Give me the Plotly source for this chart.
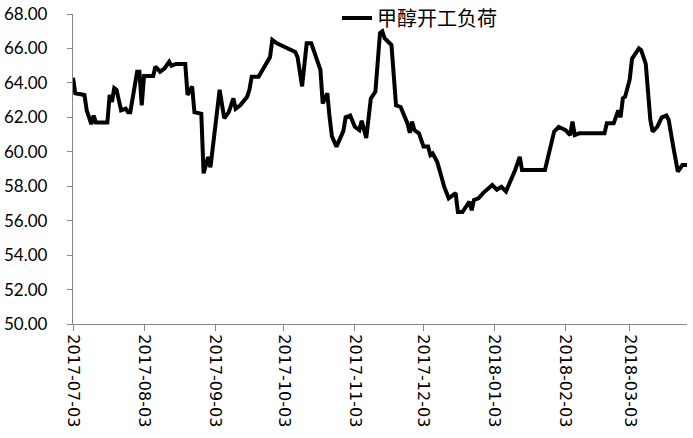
import plotly.graph_objects as go

dates = [
    "2017-07-03", "2017-07-04", "2017-07-08", "2017-07-09", "2017-07-11", "2017-07-12", "2017-07-13",
    "2017-07-18", "2017-07-19", "2017-07-20", "2017-07-21", "2017-07-22", "2017-07-24", "2017-07-26",
    "2017-07-27", "2017-07-28", "2017-07-31", "2017-08-01", "2017-08-02", "2017-08-03", "2017-08-07",
    "2017-08-08", "2017-08-10", "2017-08-12", "2017-08-14", "2017-08-15", "2017-08-17", "2017-08-21",
    "2017-08-22", "2017-08-24", "2017-08-25", "2017-08-28", "2017-08-29", "2017-08-31", "2017-09-01",
    "2017-09-05", "2017-09-07", "2017-09-09", "2017-09-11", "2017-09-12", "2017-09-14", "2017-09-17",
    "2017-09-18", "2017-09-19", "2017-09-22", "2017-09-25", "2017-09-27", "2017-09-28", "2017-09-30",
    "2017-10-08", "2017-10-09", "2017-10-11", "2017-10-13", "2017-10-15", "2017-10-17", "2017-10-19",
    "2017-10-20", "2017-10-21", "2017-10-22", "2017-10-23", "2017-10-24", "2017-10-26", "2017-10-28",
    "2017-10-29", "2017-10-30", "2017-11-01", "2017-11-03", "2017-11-05", "2017-11-06", "2017-11-08",
    "2017-11-10", "2017-11-12", "2017-11-14", "2017-11-15", "2017-11-16", "2017-11-19", "2017-11-21",
    "2017-11-23", "2017-11-26", "2017-11-27", "2017-11-28", "2017-11-29", "2017-12-01", "2017-12-03",
    "2017-12-05", "2017-12-06", "2017-12-07", "2017-12-09", "2017-12-11", "2017-12-12", "2017-12-14",
    "2017-12-17", "2017-12-18", "2017-12-20", "2017-12-23", "2017-12-24", "2017-12-25", "2017-12-27",
    "2017-12-29", "2018-01-02", "2018-01-04", "2018-01-06", "2018-01-08", "2018-01-10", "2018-01-12",
    "2018-01-14", "2018-01-15", "2018-01-25", "2018-01-29", "2018-01-31", "2018-02-03", "2018-02-05",
    "2018-02-06", "2018-02-07", "2018-02-09", "2018-02-20", "2018-02-21", "2018-02-24", "2018-02-25",
    "2018-02-26", "2018-02-27", "2018-02-28", "2018-03-01", "2018-03-03", "2018-03-04", "2018-03-07",
    "2018-03-08", "2018-03-10", "2018-03-12", "2018-03-13", "2018-03-15", "2018-03-17", "2018-03-19",
    "2018-03-20", "2018-03-22", "2018-03-24", "2018-03-26", "2018-03-28",
]

load_rate = [
    64.30, 63.40, 63.30, 62.40, 61.60, 62.10, 61.70,
    61.70, 63.30, 62.90, 63.70, 63.60, 62.40, 62.50,
    62.30, 62.30, 64.65, 64.65, 62.70, 64.40, 64.40,
    64.95, 64.65, 64.85, 65.23, 65.00, 65.10, 65.10,
    63.30, 63.80, 62.30, 62.20, 58.75, 59.70, 59.10,
    63.60, 61.95, 62.30, 63.10, 62.50, 62.70, 63.20,
    63.60, 64.35, 64.35, 65.10, 65.50, 66.50, 66.30,
    65.80, 65.50, 63.80, 66.30, 66.30, 65.50, 64.75,
    62.80, 63.10, 63.40, 62.00, 60.90, 60.30, 60.90,
    61.20, 62.00, 62.10, 61.45, 61.26, 61.80, 60.80,
    63.10, 63.50, 66.90, 67.00, 66.60, 66.20, 62.70,
    62.60, 61.65, 61.10, 61.75, 61.26, 61.07, 60.30,
    60.30, 59.80, 59.90, 59.40, 58.46, 57.97, 57.30,
    57.60, 56.50, 56.50, 57.10, 56.60, 57.20, 57.30,
    57.60, 58.07, 57.80, 57.97, 57.70, 58.26, 58.94,
    59.70, 58.94, 58.94, 61.17, 61.45, 61.26, 60.97,
    61.75, 60.97, 61.07, 61.07, 61.65, 61.65, 62.00,
    62.40, 62.00, 63.10, 63.20, 64.20, 65.40, 66.00,
    65.90, 65.10, 61.85, 61.17, 61.45, 62.00, 62.10,
    61.85, 60.30, 58.85, 59.23, 59.23,
]

x_ticks = ["2017-07-03", "2017-08-03", "2017-09-03", "2017-10-03", "2017-11-03",
           "2017-12-03", "2018-01-03", "2018-02-03", "2018-03-03"]
y_ticks = [50, 52, 54, 56, 58, 60, 62, 64, 66, 68]
series_name = "甲醇开工负荷"

fig = go.Figure()
fig.add_trace(go.Scatter(
    x=dates, y=load_rate, mode="lines", name=series_name,
    line=dict(color="#000000", width=4),
))

fig.update_layout(
    width=693, height=438,
    margin=dict(l=73, r=6, t=14, b=114, autoexpand=False),
    paper_bgcolor="white", plot_bgcolor="white",
    showlegend=True,
    legend=dict(
        x=0.43, y=0.987, xanchor="left", yanchor="middle",
        orientation="h", bgcolor="rgba(0,0,0,0)",
        font=dict(family="Noto Sans CJK SC", size=20, color="#000000"),
    ),
)
fig.update_xaxes(
    type="date", range=["2017-07-03", "2018-03-28"],
    tickvals=x_ticks, ticktext=x_ticks, tickangle=90,
    showgrid=False, zeroline=False, automargin=False,
    showline=True, linecolor="#868686", linewidth=1.3,
    ticks="outside", ticklen=6, tickcolor="#868686",
    tickfont=dict(family="DejaVu Sans", size=16, color="#000000"),
)
fig.update_yaxes(
    range=[50, 68], tickvals=y_ticks, tickformat=".2f",
    showgrid=False, zeroline=False, automargin=False,
    showline=True, linecolor="#868686", linewidth=1.3,
    ticks="outside", ticklen=5, tickcolor="#868686",
    ticklabelstandoff=16,
    tickfont=dict(family="Lato", size=17, color="#000000"),
)

fig.write_html(
    "out.html",
    config={"displayModeBar": False},
    post_script="document.body.style.margin='0';document.body.style.overflow='hidden';",
)
